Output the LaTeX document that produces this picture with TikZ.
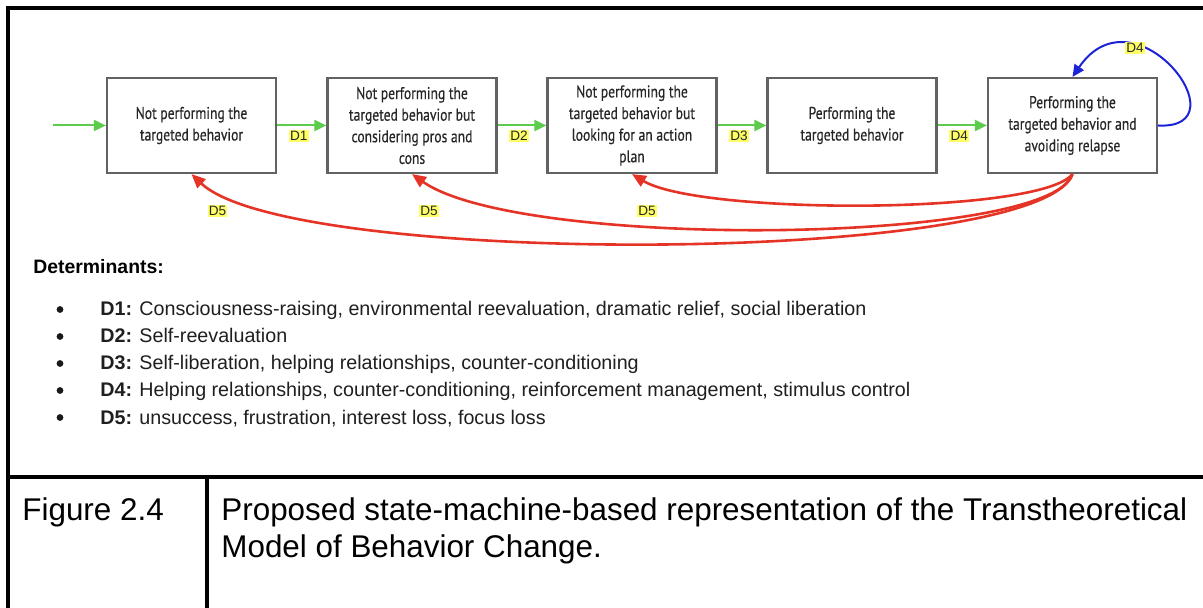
\documentclass[tikz,border=0pt]{standalone}
\usepackage{fontspec}
\setmainfont{Liberation Sans}
\newfontfamily\etatfont[FakeStretch=0.8, FakeBold=0.5]{PT Sans}
\usetikzlibrary{arrows.meta}

\definecolor{vert}{HTML}{5CCB4E}
\definecolor{rouge}{HTML}{E53425}
\definecolor{bleu}{HTML}{1C22D8}
\definecolor{jaune}{HTML}{FFFF66}
\definecolor{bord}{HTML}{626262}

\begin{document}
\begin{tikzpicture}[x=0.5pt, y=-0.5pt]
	\tikzset{etat/.style={draw=bord, line width=1.1pt, minimum width=84.5pt, minimum height=47.5pt, align=center, inner sep=1pt, text=black!85, font=\etatfont\fontsize{8.5}{10.8}\selectfont},
	dlab/.style={fill=jaune, inner sep=0.6pt, text=black!85, font=\fontsize{6.8}{7}\selectfont},
	fleche/.style={line width=1pt, -{Triangle[length=6pt, width=5.5pt]}},
	retour/.style={line width=1.3pt, rouge, -{Triangle[length=7pt, width=6pt]}},
	cadre/.style={line width=1.6pt}};

	\useasboundingbox (0,0) rectangle (1203,608);

	% frame of the figure
	\draw[cadre] (8,608) -- (8,8) -- (1203,8);
	\draw[cadre] (8,477) -- (1203,477);
	\draw[cadre] (207,477) -- (207,608);

	% states
	\foreach \name/\x/\txt in {s1/191.5/{Not performing the\\targeted behavior},
		s2/412/{Not performing the\\targeted behavior but\\considering pros and\\cons},
		s3/632/{Not performing the\\targeted behavior but\\looking for an action\\plan},
		s4/852/{Performing the\\targeted behavior},
		s5/1072.5/{Performing the\\targeted behavior and\\avoiding relapse}}{
		\node[etat] (\name) at (\x, 125.5) {\txt};
	}
	\coordinate (entree) at (53, 125.5);

	\draw[fleche, vert] (entree) -- (s1);
	\draw[fleche, vert] (s1) -- node[dlab, pos=.44, yshift=-5.3pt] {D1} (s2);
	\draw[fleche, vert] (s2) -- node[dlab, pos=.44, yshift=-5.3pt] {D2} (s3);
	\draw[fleche, vert] (s3) -- node[dlab, pos=.44, yshift=-5.3pt] {D3} (s4);
	\draw[fleche, vert] (s4) -- node[dlab, pos=.44, yshift=-5.3pt] {D4} (s5);

	\draw[fleche, bleu] (s5.east) .. controls (1245,130) and (1135,-15) .. node[dlab, pos=.7] {D4} (s5.north);

	\draw[retour] (s5.south) .. controls (1040,215) and (700,215) .. (s3.south) node[dlab, pos=1, xshift=7.5pt, yshift=-18.5pt] {D5};
	\draw[retour] (s5.south) .. controls (1050,245) and (520,250) .. (s2.south) node[dlab, pos=1, xshift=8.5pt, yshift=-18.5pt] {D5};
	\draw[retour] (s5.south) .. controls (1040,265) and (290,268) .. (s1.south) node[dlab, pos=1, xshift=13pt, yshift=-18.5pt] {D5};

	% determinants
	\node[anchor=base west, inner sep=0pt, font=\bfseries\fontsize{9.7}{11}\selectfont] (titre) at (33, 274) {Determinants:};
	\foreach \k/\y/\txt in {1/316/{Consciousness-raising, environmental reevaluation, dramatic relief, social liberation},
		2/343/{Self-reevaluation},
		3/370/{Self-liberation, helping relationships, counter-conditioning},
		4/397/{Helping relationships, counter-conditioning, reinforcement management, stimulus control},
		5/424/{unsuccess, frustration, interest loss, focus loss}}{
		\fill[black!90] (60, \y-6.5) circle (3.4) coordinate (puce-\k);
		\node[anchor=base west, inner sep=0pt, text=black!88, font=\fontsize{9.85}{11}\selectfont] (item-\k) at (100, \y) {\textbf{D\k:} \txt};
	}

	% caption row
	\node[anchor=base west, inner sep=0pt, font=\fontsize{15.7}{18.5}\selectfont] (figure) at (22, 520) {Figure 2.4};
	\node[anchor=base west, inner sep=0pt, font=\fontsize{15.7}{18.5}\selectfont] (legende-1) at (221, 520) {Proposed state-machine-based representation of the Transtheoretical};
	\node[anchor=base west, inner sep=0pt, font=\fontsize{15.7}{18.5}\selectfont] (legende-2) at (221, 557) {Model of Behavior Change.};
\end{tikzpicture}
\end{document}
